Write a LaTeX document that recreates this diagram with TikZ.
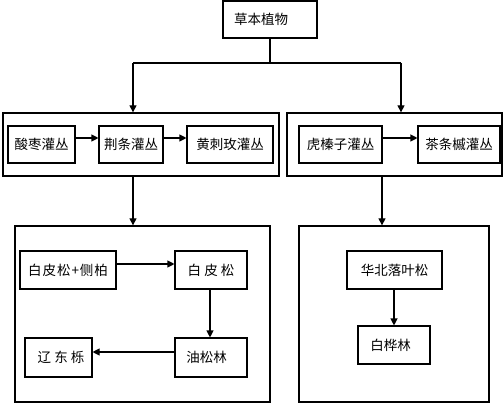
\documentclass[tikz,border=0pt]{standalone}
\usepackage{fontspec}
\setmainfont{Noto Sans CJK SC}
\usetikzlibrary{arrows.meta}
\begin{document}
\begin{tikzpicture}[x=1pt,y=-1pt,
  every node/.style={font=\fontsize{13.5}{15}\selectfont},
  box/.style={draw,line width=1.1pt,inner sep=0pt},
  grp/.style={draw,line width=1.3pt,inner sep=0pt},
  arr/.style={line width=1.1pt,-{Triangle[length=7pt,width=7pt]}},
  ln/.style={line width=1.1pt}]
\useasboundingbox (0,0) rectangle (503,403);
% top
\node[box,minimum width=94pt,minimum height=37pt] (top) at (270,19.5) {};
\node (toptxt) at (261,19) {草本植物};
% groups
\node[grp,minimum width=276pt,minimum height=63pt] (g1) at (141,144.5) {};
\node[grp,minimum width=215pt,minimum height=63pt] (g2) at (394.5,144.5) {};
\node[grp,minimum width=255pt,minimum height=176pt] (g3) at (142.5,314) {};
\node[grp,minimum width=190pt,minimum height=176pt] (g4) at (394,314) {};
% shrubs
\node[box,minimum width=67pt,minimum height=37pt] (a1) at (41.5,144.5) {酸枣灌丛};
\node[box,minimum width=64pt,minimum height=37pt] (a2) at (131,144.5) {荆条灌丛};
\node[box,minimum width=86pt,minimum height=37pt] (a3) at (230,144.5) {黄刺玫灌丛};
\node[box,minimum width=83pt,minimum height=37pt] (b1) at (340.5,144.5) {虎榛子灌丛};
\node[box,minimum width=82pt,minimum height=37pt] (b2) at (459,144.5) {茶条槭灌丛};
% forests
\node[box,minimum width=96pt,minimum height=38pt] (c1) at (68,270) {白\kern1pt 皮\kern1pt 松\kern1pt+\kern1pt 侧\kern1pt 柏};
\node[box,minimum width=72pt,minimum height=38pt] (c2) at (211,270) {白\ 皮\ 松};
\node[box,minimum width=72pt,minimum height=39pt] (c3) at (211,357.5) {油松林\hspace*{9pt}};
\node[box,minimum width=67pt,minimum height=39pt] (c4) at (58.5,357.5) {\hspace*{5pt}辽\ 东\ 栎};
\node[box,minimum width=95pt,minimum height=38pt] (d1) at (394.5,270) {华北落叶松};
\node[box,minimum width=72pt,minimum height=38pt] (d2) at (394,345) {白桦林\hspace*{7pt}};
% connectors
\coordinate (j) at (270,63);
\coordinate (jl) at (133,63);
\coordinate (jr) at (401,63);
\draw[ln] (top.south) -- (j);
\draw[ln] (jl) -- (jr);
\draw[arr] (jl) -- (jl |- g1.north);
\draw[arr] (jr) -- (jr |- g2.north);
\draw[arr] (a1.east |- 0,138) -- (a2.west |- 0,138);
\draw[arr] (a2.east |- 0,138) -- (a3.west |- 0,138);
\draw[arr] (b1.east |- 0,138) -- (b2.west |- 0,138);
\draw[arr] (g1.south -| 133,0) -- (g3.north -| 133,0);
\draw[arr] (g2.south -| 382,0) -- (g4.north -| 382,0);
\draw[arr] (c1.east |- 0,264) -- (c2.west |- 0,264);
\draw[arr] (c2.south -| 210,0) -- (c3.north -| 210,0);
\draw[arr] (c3.west |- 0,352) -- (c4.east |- 0,352);
\draw[arr] (d1.south -| 394,0) -- (d2.north -| 394,0);
\end{tikzpicture}
\end{document}
